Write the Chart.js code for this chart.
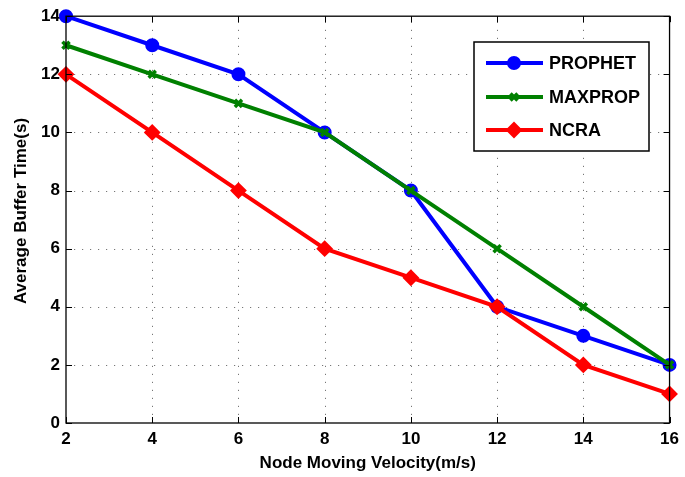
<!DOCTYPE html>
<html>
<head>
<meta charset="utf-8">
<script src="https://cdn.jsdelivr.net/npm/chart.js@4/dist/chart.umd.min.js"></script>
<style>
html,body{margin:0;padding:0;background:#fff;}
canvas{display:block;}
</style>
</head>
<body>
<canvas id="c" width="685" height="477"></canvas>
<script>
const velocities = [2, 4, 6, 8, 10, 12, 14, 16];
const prophet = [14, 13, 12, 10, 8, 4, 3, 2];
const maxprop = [13, 12, 11, 10, 8, 6, 4, 2];
const ncra = [12, 10, 8, 6, 5, 4, 2, 1];
const seriesNames = ['PROPHET', 'MAXPROP', 'NCRA'];
const xTicks = [2, 4, 6, 8, 10, 12, 14, 16];
const yTicks = [0, 2, 4, 6, 8, 10, 12, 14];
const xTitle = 'Node Moving Velocity(m/s)';
const yTitle = 'Average Buffer Time(s)';

const FONT = '"Liberation Sans", Arial, Helvetica, sans-serif';

function pts(arr){ return velocities.map((v,i)=>({x:v, y:arr[i]})); }

const frame = {
  id: 'frame',
  beforeDatasetsDraw(chart){
    const {ctx, chartArea:a, scales:{x, y}} = chart;
    ctx.save();
    ctx.strokeStyle = '#777';
    ctx.lineWidth = 1;
    ctx.setLineDash([1.2, 6.8]);
    xTicks.forEach(v=>{
      const px = Math.round(x.getPixelForValue(v)) + 0.5;
      if (v === xTicks[0] || v === xTicks[xTicks.length-1]) return;
      ctx.beginPath(); ctx.moveTo(px, a.bottom); ctx.lineTo(px, a.top); ctx.stroke();
    });
    yTicks.forEach(v=>{
      const py = Math.round(y.getPixelForValue(v)) + 0.5;
      if (v === yTicks[0] || v === yTicks[yTicks.length-1]) return;
      ctx.beginPath(); ctx.moveTo(a.left, py); ctx.lineTo(a.right, py); ctx.stroke();
    });
    ctx.restore();
  },
  afterDatasetsDraw(chart){
    const {ctx, chartArea:a, scales:{x, y}} = chart;
    ctx.save();
    ctx.strokeStyle = '#000';
    ctx.lineWidth = 1.3;
    ctx.setLineDash([]);
    ctx.strokeRect(a.left, a.top, a.right - a.left, a.bottom - a.top);
    const L = 6;
    ctx.lineWidth = 1;
    xTicks.forEach(v=>{
      const px = Math.round(x.getPixelForValue(v)) + 0.5;
      ctx.beginPath(); ctx.moveTo(px, a.bottom); ctx.lineTo(px, a.bottom - L); ctx.stroke();
      ctx.beginPath(); ctx.moveTo(px, a.top); ctx.lineTo(px, a.top + L); ctx.stroke();
    });
    yTicks.forEach(v=>{
      const py = Math.round(y.getPixelForValue(v)) + 0.5;
      ctx.beginPath(); ctx.moveTo(a.left, py); ctx.lineTo(a.left + L, py); ctx.stroke();
      ctx.beginPath(); ctx.moveTo(a.right, py); ctx.lineTo(a.right - L, py); ctx.stroke();
    });

    // axis titles
    ctx.fillStyle = '#000';
    ctx.font = 'bold 17px ' + FONT;
    ctx.textAlign = 'center';
    ctx.textBaseline = 'middle';
    ctx.fillText(xTitle, (a.left + a.right)/2, 463);
    ctx.save();
    ctx.translate(21, 211);
    ctx.rotate(-Math.PI/2);
    ctx.fillText(yTitle, 0, 0);
    ctx.restore();

    // legend
    const bx = 474, by = 42, bw = 175, bh = 109;
    ctx.fillStyle = '#fff';
    ctx.fillRect(bx, by, bw, bh);
    ctx.lineWidth = 1.5;
    ctx.strokeStyle = '#000';
    ctx.strokeRect(bx, by, bw, bh);
    const rows = [63, 97, 130];
    chart.data.datasets.forEach((ds, i)=>{
      const yy = rows[i];
      ctx.strokeStyle = ds.borderColor;
      ctx.lineWidth = ds.borderWidth;
      ctx.beginPath(); ctx.moveTo(486, yy); ctx.lineTo(543, yy); ctx.stroke();
      ctx.fillStyle = ds.pointBackgroundColor;
      ctx.strokeStyle = ds.pointBorderColor;
      ctx.lineWidth = ds.pointBorderWidth;
      Chart.helpers.drawPoint(ctx, {pointStyle: ds.pointStyle, radius: ds.pointRadius, rotation: 0, borderWidth: ds.pointBorderWidth}, 514, yy);
      ctx.fillStyle = '#000';
      ctx.font = 'bold 18px ' + FONT;
      ctx.textAlign = 'left';
      ctx.textBaseline = 'middle';
      ctx.fillText(ds.label, 549, yy + 1);
    });
    ctx.restore();
  }
};

new Chart(document.getElementById('c'), {
  type: 'line',
  data: {
    datasets: [
      {label: seriesNames[0], data: pts(prophet), borderColor: '#0000ff', backgroundColor: '#0000ff',
       borderWidth: 4, pointStyle: 'circle', pointRadius: 6, pointBorderWidth: 2,
       pointBackgroundColor: '#0000ff', pointBorderColor: '#0000ff', order: 3},
      {label: seriesNames[1], data: pts(maxprop), borderColor: '#008000', backgroundColor: '#008000',
       borderWidth: 4, pointStyle: 'crossRot', pointRadius: 5, pointBorderWidth: 3.5,
       pointBackgroundColor: '#008000', pointBorderColor: '#008000', order: 2},
      {label: seriesNames[2], data: pts(ncra), borderColor: '#ff0000', backgroundColor: '#ff0000',
       borderWidth: 4, pointStyle: 'rectRot', pointRadius: 7, pointBorderWidth: 2,
       pointBackgroundColor: '#ff0000', pointBorderColor: '#ff0000', order: 1}
    ]
  },
  options: {
    responsive: false,
    animation: false,
    clip: false,
    layout: {padding: {left: 0, right: 14, top: 15, bottom: 0}},
    plugins: {legend: {display: false}, tooltip: {enabled: false}},
    elements: {line: {tension: 0}},
    scales: {
      x: {
        type: 'linear', min: 2, max: 16,
        afterBuildTicks(s){ s.ticks = xTicks.map(v=>({value:v})); },
        afterFit(s){ s.height = 54; },
        grid: {display: false, drawTicks: false},
        border: {display: false},
        ticks: {color: '#000', font: {family: FONT, size: 17, weight: 'bold'}, padding: 6, maxRotation: 0, autoSkip: false}
      },
      y: {
        type: 'linear', min: 0, max: 14,
        afterBuildTicks(s){ s.ticks = yTicks.map(v=>({value:v})); },
        afterFit(s){ s.width = 66; },
        grid: {display: false, drawTicks: false},
        border: {display: false},
        ticks: {color: '#000', font: {family: FONT, size: 17, weight: 'bold'}, padding: 6, autoSkip: false}
      }
    }
  },
  plugins: [frame]
});
</script>
</body>
</html>
